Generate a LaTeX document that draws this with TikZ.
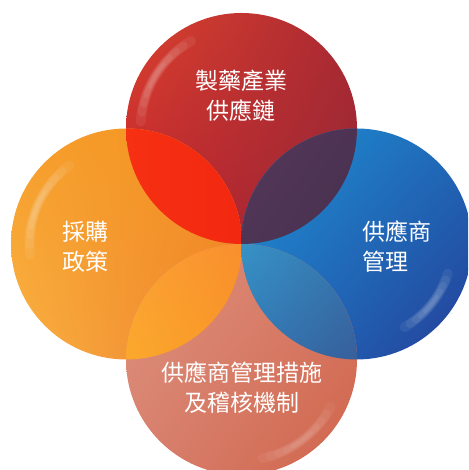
\documentclass[tikz,border=0pt]{standalone}
\usepackage{fontspec}
\newfontfamily\cjk{Noto Sans CJK TC}
\usetikzlibrary{calc,shadings}
\definecolor{tUL}{RGB}{218,66,46}\definecolor{tUR}{RGB}{170,40,50}\definecolor{tLL}{RGB}{192,34,46}\definecolor{tLR}{RGB}{150,42,54}
\definecolor{lUL}{RGB}{246,158,44}\definecolor{lUR}{RGB}{243,146,32}\definecolor{lLL}{RGB}{249,178,66}\definecolor{lLR}{RGB}{238,124,44}
\definecolor{rUL}{RGB}{30,146,212}\definecolor{rUR}{RGB}{32,104,184}\definecolor{rLL}{RGB}{32,112,192}\definecolor{rLR}{RGB}{36,62,150}
\definecolor{bUL}{RGB}{220,148,128}\definecolor{bUR}{RGB}{216,120,100}\definecolor{bLL}{RGB}{216,128,110}\definecolor{bLR}{RGB}{208,100,74}
\definecolor{tlA}{RGB}{250,56,22}\definecolor{tlB}{RGB}{242,40,16}
\definecolor{trUL}{RGB}{84,56,90}\definecolor{trUR}{RGB}{70,46,76}\definecolor{trLL}{RGB}{74,50,80}\definecolor{trLR}{RGB}{60,40,68}
\definecolor{blUL}{RGB}{251,170,70}\definecolor{blUR}{RGB}{249,136,54}\definecolor{blLL}{RGB}{253,186,54}\definecolor{blLR}{RGB}{249,150,36}
\definecolor{brUL}{RGB}{58,172,216}\definecolor{brUR}{RGB}{52,110,168}\definecolor{brLL}{RGB}{50,120,180}\definecolor{brLR}{RGB}{60,70,130}
\begin{document}
\begin{tikzpicture}[x=1pt,y=1pt,
  lbl/.style={text=white, inner sep=0pt, font=\cjk\fontsize{23}{30}\selectfont},
  gloss/.style={draw=white, line cap=round}]
\useasboundingbox (0,0) rectangle (468,470);
\clip (0,0) rectangle (468,470);
\coordinate (T) at (241.5,341.5);
\coordinate (L) at (126.5,226);
\coordinate (R) at (356.5,226);
\coordinate (B) at (241.5,110.5);
\def\rad{115.5pt}
% base circles
\shade[upper left=tUL, upper right=tUR, lower left=tLL, lower right=tLR] (T) circle[radius=\rad];
\shade[upper left=lUL, upper right=lUR, lower left=lLL, lower right=lLR] (L) circle[radius=\rad];
\shade[upper left=rUL, upper right=rUR, lower left=rLL, lower right=rLR] (R) circle[radius=\rad];
\shade[upper left=bUL, upper right=bUR, lower left=bLL, lower right=bLR] (B) circle[radius=\rad];
% overlaps
\begin{scope}
  \clip (T) circle[radius=\rad];
  \shade[left color=tlA, right color=tlB] (L) circle[radius=\rad];
  \shade[upper left=trUL, upper right=trUR, lower left=trLL, lower right=trLR] (R) circle[radius=\rad];
\end{scope}
\begin{scope}
  \clip (B) circle[radius=\rad];
  \shade[upper left=blUL, upper right=blUR, lower left=blLL, lower right=blLR] (L) circle[radius=\rad];
  \shade[upper left=brUL, upper right=brUR, lower left=brLL, lower right=brLR] (R) circle[radius=\rad];
\end{scope}
% soft gloss highlights (tapered by stacking shorter arcs)
\foreach \c/\a/\b/\rr/\op in {T/120/176/101/0.07, L/126/186/97/0.07, R/-60/-18/96/0.07, B/-78/-28/101/0.05}{
  \foreach \i in {0,...,4}{
    \pgfmathsetmacro{\sa}{\a+(\b-\a)*0.09*\i}
    \pgfmathsetmacro{\ea}{\b-(\b-\a)*0.09*\i}
    \pgfmathsetmacro{\lw}{10-1.6*\i}
    \draw[gloss, line width=\lw pt, opacity=\op] ($(\c)+(\sa:\rr pt)$) arc[start angle=\sa, end angle=\ea, radius=\rr pt];
  }
}
% labels
\node[lbl, align=center] (tT) at (241,374) {製藥產業\\供應鏈};
\node[lbl, align=center] (tL) at (85,223) {採購\\政策};
\node[lbl, align=left, anchor=west] (tR) at (362,223) {供應商\\管理};
\node[lbl, align=center] (tB) at (242,82) {供應商管理措施\\及稽核機制};
\end{tikzpicture}
\end{document}
